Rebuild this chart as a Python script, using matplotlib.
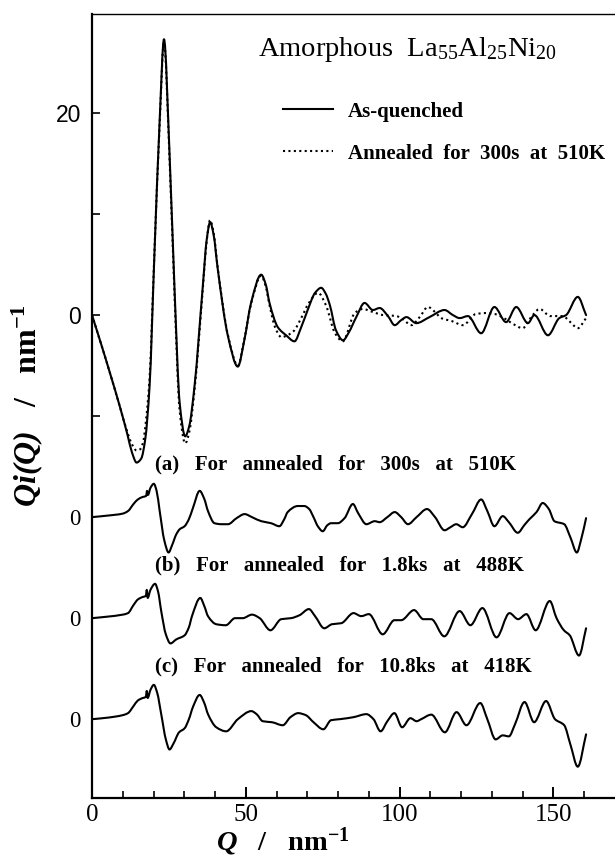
import matplotlib.pyplot as plt
from matplotlib.path import Path
from matplotlib.patches import PathPatch
from matplotlib.lines import Line2D

plt.rcParams['font.family'] = ['Liberation Serif', 'DejaVu Serif']
plt.rcParams['mathtext.fontset'] = 'custom'
plt.rcParams['mathtext.rm'] = 'Liberation Serif'
plt.rcParams['mathtext.it'] = 'Liberation Serif:italic'
plt.rcParams['mathtext.bf'] = 'Liberation Serif:bold'
plt.rcParams['mathtext.bfit'] = 'Liberation Serif:italic:bold'

# Qi(Q) of the as-quenched ribbon
q_quenched = [0, 3, 6, 9, 11.5, 13, 14.5, 16, 17.3, 18.7, 20.3, 22.0, 23.4, 25.2,
              26.8, 28.5, 30.3, 31.6, 33.3, 36.0, 37.3, 38.4, 39.5, 40.9, 44.2, 47.4,
              49.5, 51.7, 55.0, 56.5, 57.7, 60.4, 63.1, 65.8, 68.0, 70.1, 72.5, 74.5,
              76.0, 77.3, 79.3, 81.6, 83.5, 85.9, 88.6, 91.3, 93.5, 96.2, 98.4, 100.5,
              102.2, 105.4, 109.7, 114.6, 117.3, 119.5, 122.2, 126.5, 130.8, 134.6,
              137.9, 141.7, 143.8, 148.2, 151.9, 154.1, 157.9, 160.6]
qi_quenched = [0, -2.9, -5.9, -9.0, -11.8, -13.6, -14.6, -14.2, -12.3, -7.1, 6.1, 19.3,
               27.3, 16.0, 2.8, -8.7, -12.0, -11.0, -7.1, 2.8, 7.5, 9.2, 8.0, 4.5, -2.1,
               -5.1, -2.5, 1.2, 4.0, 3.0, 1.2, -1.2, -2.0, -2.6, -1.2, 0.5, 2.2, 2.7,
               2.1, 1.0, -1.5, -2.5, -1.7, -0.2, 1.2, 0.5, 0.7, -0.1, -1.0, -0.5,
               -0.2, -0.8, -0.2, 0.5, 0.0, -0.3, -0.1, -1.8, 0.8, -0.7,
               0.8, -0.8, 0.0, -2.0, -0.3, 0.0, 1.8, 0.0]

# Qi(Q) after annealing for 300 s at 510 K
q_annealed = [0, 3, 6, 9, 11.5, 13, 14.5, 15.6, 16.6, 17.6, 18.7, 20.3, 22.0, 23.4,
              25.2, 26.8, 28.5, 30.3, 31.6, 33.3, 36.0, 37.3, 38.4, 39.5, 40.9, 44.2,
              47.4, 49.5, 51.7, 55.0, 56.5, 57.7, 59.5, 61.6, 63.5, 65.5, 68.0, 70.5,
              73.5, 76.0, 79.0, 81.5, 85.4, 88.0, 91.3, 94.6, 98.9, 101.0, 103.8,
              106.5, 109.2, 111.5, 113.5, 117.0, 120.6, 124.7, 128.0, 131.0, 133.9,
              137.0, 140.0, 142.5, 145.5, 149.0, 153.0, 155.5, 157.9, 160.6]
qi_annealed = [0, -2.9, -5.9, -9.0, -11.6, -12.8, -13.4, -13.3, -12.6, -10.3, -6.3, 6.3,
               19.0, 27.0, 15.5, 2.2, -9.5, -12.7, -11.6, -7.5, 2.5, 7.4, 9.4, 8.2, 4.6,
               -2.0, -5.0, -2.4, 1.1, 3.9, 2.8, 1.0, -1.2, -2.2, -2.0, -1.6, -0.3, 1.2,
               2.2, 1.0, -1.8, -2.6, 0.2, 0.6, 0.3, 0.0, -0.1, -0.4, -1.0,
               -0.2, 0.8, 0.3, -0.3, -0.6, -1.0, 0.1, 0.2, 0.1, -0.3,
               -0.9, -1.3, -0.3, 0.6, -0.1, -0.1, -0.7, -1.3, -0.3]

# difference curves (a), (b), (c) and their baselines
q_a = [0, 5, 10, 11.7, 13.5, 14.9, 16.5, 17.6, 17.9, 18.2, 19.0, 20.1, 21.0, 22.0,
       23.5, 24.9, 26.0, 27.4, 28.5, 30.1, 31.5, 32.8, 35.0, 36.5, 37.7, 39.8, 42.0,
       44.2, 47.0, 49.6, 52.0, 55.0, 58.2, 60.9, 62.5, 63.6, 66.9, 69.0, 70.6, 72.0,
       73.4, 75.0, 76.5, 77.7, 79.9, 82.1, 84.8, 86.5, 89.2, 91.9, 93.5, 96.0, 98.4,
       100.5, 102.7, 105.5, 108.9, 111.5, 114.6, 116.5, 118.4, 120.5, 123.5, 126.5,
       128.5, 130.8, 133.5, 135.5, 138.4, 140.5, 142.2, 144.5, 146.5, 148.5, 150.3,
       153.5, 155.5, 157.6, 159.0, 160.6]
qi_a = [0, 0.15, 0.35, 0.6, 1.3, 1.75, 2.0, 2.1, 2.6, 2.2, 2.9, 3.3, 2.6, 0.6,
        -2.3, -3.5, -2.8, -1.7, -1.2, -0.9, -0.2, 0.9, 2.6, 1.8, 0.6, -0.6, -0.7,
        -0.7, -0.1, 0.3, 0.0, -0.4, -0.6, -0.9, -0.2, 0.5, 1.1, 1.1, 0.8, 0.0,
        -0.9, -1.4, -0.8, -0.6, -0.6, -0.1, 1.3, 0.4, -0.7, -0.4, -0.5, 0.0, 0.5,
        0.0, -0.7, 0.0, 0.8, 0.0, -1.3, -1.0, -0.7, -1.0, 0.3, 1.75,
        0.6, -0.9, 0.1, -0.5, -1.55, -0.8, -0.2, 0.5, 1.4, 0.8, -0.4,
        -0.7, -2.0, -3.5, -2.2, -0.1]

q_b = [0, 5, 10, 11.7, 13.5, 14.9, 16.5, 17.5, 17.8, 18.1, 19.0, 20.5, 21.5, 22.5,
       24.0, 25.5, 27.4, 30.1, 31.5, 32.5, 35.2, 36.5, 37.7, 40.4, 43.5, 46.5, 49.0,
       52.0, 54.5, 58.0, 61.5, 64.7, 67.5, 70.5, 72.5, 75.5, 78.0, 81.0, 85.0, 87.5,
       90.0, 94.5, 98.3, 100.5, 104.7, 107.7, 110.3, 114.5, 119.5, 123.0, 126.9,
       131.5, 135.7, 138.5, 141.2, 144.2, 148.8, 151.0, 153.4, 155.3, 158.3, 160.6]
qi_b = [0, 0.15, 0.35, 0.5, 1.3, 1.85, 2.1, 2.2, 2.8, 2.0, 2.8, 3.4, 2.6, 0.7,
        -1.6, -2.5, -2.1, -1.7, -0.9, 0.2, 2.0, 1.2, 0.2, -0.6, -0.7, 0.0, 0.0,
        0.35, 0.0, -1.2, -0.1, 0.0, 0.3, 0.9, 0.2, -1.0, -0.6, -0.5, 0.5, 0.2,
        0.4, -1.6, -0.2, -0.2, 0.8, -0.1, -0.1, -1.8, 0.7, -0.7, 1.0,
        -1.9, 0.5, -0.1, 0.4, -1.2, 1.7, 0.0, -1.2, -1.7, -3.7, -1.0]

q_c = [0, 5, 10, 11.7, 13.5, 14.9, 16.5, 17.5, 17.8, 18.1, 19.0, 20.1, 21.2, 22.5,
       24.0, 25.2, 26.5, 28.3, 30.1, 31.5, 32.8, 35.0, 36.5, 37.7, 40.4, 43.6, 47.4,
       51.8, 53.5, 55.5, 58.5, 62.0, 64.5, 67.0, 69.5, 72.0, 75.2, 77.7, 80.5, 85.0,
       89.2, 91.5, 93.8, 96.0, 98.3, 100.8, 103.5, 105.5, 107.0, 110.3, 114.7, 118.5,
       121.7, 126.2, 128.5, 131.2, 133.5, 135.5, 137.5, 140.6, 143.7, 147.6, 150.5,
       153.5, 155.5, 157.9, 160.6]
qi_c = [0, 0.15, 0.4, 0.6, 1.3, 1.85, 2.1, 2.2, 2.8, 2.1, 2.9, 3.4, 2.6, 0.5,
        -2.0, -3.0, -2.4, -1.3, -0.9, 0.0, 1.2, 2.4, 1.6, 0.5, -0.8, -1.2, 0.0,
        0.8, 0.5, -0.2, -0.3, -0.6, 0.2, 0.6, 0.4, -0.3, -1.0, -0.1, 0.0, 0.2,
        0.5, 0.0, -1.2, -0.2, 0.6, -0.8, 0.1, -0.2, 0.0, 0.45, -1.3, 0.7,
        -0.6, 1.6, 0.0, -2.0, -1.6, -1.7, -0.5, 1.7, -0.3, 1.8, 0.0,
        -0.6, -2.5, -4.7, -1.5]

diff_curves = [(q_a, qi_a), (q_b, qi_b), (q_c, qi_c)]
diff_offsets = [-20, -30, -40]
diff_labels = ['(a)   For   annealed   for   300s   at   510K',
               '(b)   For   annealed   for   1.8ks   at   488K',
               '(c)   For   annealed   for   10.8ks   at   418K']


def smooth_path(q, v, offset=0.0):
    # monotone cubic (pchip) through the points, drawn as bezier segments
    n = len(q)
    h = [q[k + 1] - q[k] for k in range(n - 1)]
    d = [(v[k + 1] - v[k]) / h[k] for k in range(n - 1)]
    s = [0.0] * n
    s[0], s[-1] = d[0], d[-1]
    for k in range(1, n - 1):
        if d[k - 1] * d[k] > 0:
            w1 = 2 * h[k] + h[k - 1]
            w2 = h[k] + 2 * h[k - 1]
            s[k] = (w1 + w2) / (w1 / d[k - 1] + w2 / d[k])
    verts = [(q[0], v[0] + offset)]
    codes = [Path.MOVETO]
    for k in range(n - 1):
        verts += [(q[k] + h[k] / 3, v[k] + offset + s[k] * h[k] / 3),
                  (q[k + 1] - h[k] / 3, v[k + 1] + offset - s[k + 1] * h[k] / 3),
                  (q[k + 1], v[k + 1] + offset)]
        codes += [Path.CURVE4] * 3
    return Path(verts, codes)


solid = dict(color='black', lw=1.5, fill=False, capstyle='round', joinstyle='round')
dotted = dict(color='black', lw=1.5, fill=False, linestyle=(0, (1, 1.6)))

fig = plt.figure(figsize=(6.15, 8.57), dpi=100)
ax = fig.add_axes([92 / 615, 1 - 798 / 857, 1 - 92 / 615, (798 - 14) / 857])

ax.add_patch(PathPatch(smooth_path(q_annealed, qi_annealed), **dotted))
ax.add_patch(PathPatch(smooth_path(q_quenched, qi_quenched), **solid))
for (q, v), off, lab in zip(diff_curves, diff_offsets, diff_labels):
    ax.add_patch(PathPatch(smooth_path(q, v, off), **solid))
    ax.text(20.5, off + 5.25, lab, fontsize=15, fontweight='bold', va='center')

ax.set_xlim(0, 170)
ax.set_ylim(-47.8, 29.8)

# axes frame: no right spine, thin top
ax.spines['right'].set_visible(False)
ax.spines['top'].set_linewidth(1.0)
ax.spines['left'].set_linewidth(1.6)
ax.spines['bottom'].set_linewidth(1.6)

ax.set_xticks([0, 50, 100, 150])
ax.set_xticks(range(10, 161, 10), minor=True)
ax.tick_params(axis='x', which='major', direction='in', length=8, width=1.4,
               labelsize=18, pad=4)
ax.tick_params(axis='x', which='minor', direction='in', length=5, width=1.2)

y_ticks = [20, 10, 0, -10, -20, -30, -40]
ax.set_yticks(y_ticks)
ax.set_yticklabels(['20', '', '0', '', '0', '0', '0'])
ax.tick_params(axis='y', direction='in', length=6, width=1.2, labelsize=16.5, pad=8)
for tick, val in zip(ax.yaxis.get_major_ticks(), y_ticks):
    if val < -10:
        tick.tick1line.set_visible(False)
    else:
        tick.label1.set_family(['Liberation Sans', 'DejaVu Sans'])

ax.set_xlabel(r'$\mathbfit{Q}$   /   $\mathbf{nm}^{\mathbf{-1}}$', fontsize=20.5,
              fontweight='bold')
ax.xaxis.set_label_coords(0.365, -0.035)
ax.set_ylabel(r'$\mathbfit{Qi(Q)}$   /   $\mathbf{nm}^{\mathbf{-1}}$', fontsize=23,
              fontweight='bold')
ax.yaxis.set_label_coords(-0.09, 0.5)

ax.text(53.9, 26.3, r'Amorphous  La$_{55}$Al$_{25}$Ni$_{20}$', fontsize=20.5, va='center')

handles = [Line2D([], [], color='black', lw=1.5),
           Line2D([], [], color='black', lw=1.5, linestyle=(0, (1, 1.6)))]
ax.legend(handles, ['As-quenched', 'Annealed  for  300s  at  510K'],
          loc='upper left', bbox_to_anchor=(0.33, 0.912), frameon=False,
          prop={'weight': 'bold', 'size': 15},
          handlelength=2.4, handletextpad=0.7, labelspacing=1.05)

fig.savefig('out.png', dpi=100)
